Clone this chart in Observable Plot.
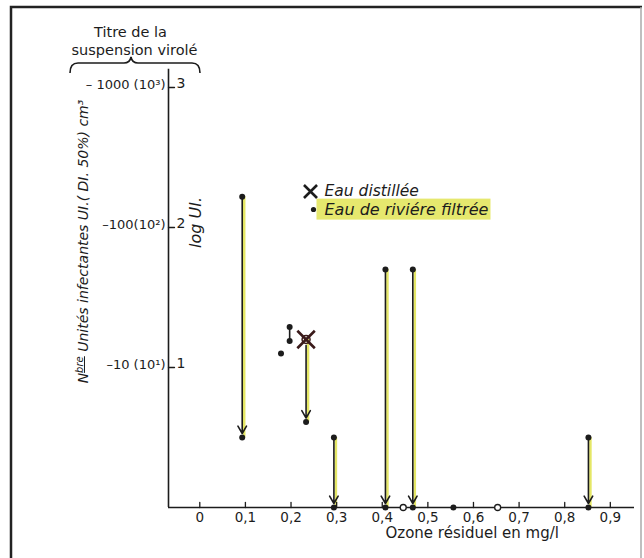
<!DOCTYPE html>
<html><head><meta charset="utf-8">
<script src="https://cdn.jsdelivr.net/npm/d3@7"></script>
<script src="https://cdn.jsdelivr.net/npm/@observablehq/plot@0.6"></script>
<style>
html,body{margin:0;padding:0;background:#fff;}
#chart{position:relative;width:644px;height:558px;overflow:hidden;}
</style></head><body><div id="chart"></div>
<script>
const FONT = '"DejaVu Sans",sans-serif';
const INK = "#1c1c1c";
const YELLOW = "#e2e455";

// axis ticks
const xTicks = [0, 0.1, 0.2, 0.3, 0.4, 0.5, 0.6, 0.7, 0.8, 0.9];
const xTickLabels = ["0", "0,1", "0,2", "0,3", "0,4", "0,5", "0,6", "0,7", "0,8", "0,9"];
const yLogTicks = [1, 2, 3];
const yLogLabels = ["1", "2", "3"];
const yCountLabels = ["–10 (10¹)", "–100(10²)", "– 1000 (10³)"];

// arrows: ozone residual (mg/l), log UI before -> after
const arrowOzone = [0.093, 0.233, 0.294, 0.407, 0.467, 0.852];
const arrowFrom  = [2.22, 1.20, 0.50, 1.70, 1.70, 0.50];
const arrowTo    = [0.50, 0.61, 0.00, 0.00, 0.00, 0.00];
const arrowSeries = ["river", "distilled", "river", "river", "river", "river"];

// other river-water points (filled)
const dotOzone = [0.178, 0.197, 0.197, 0.556];
const dotLog   = [1.10, 1.29, 1.19, 0.00];
// linked pair
const pairOzone = [0.197];
const pairFrom  = [1.29];
const pairTo    = [1.19];
// open circles on the baseline
const openOzone = [0.446, 0.653];
const openLog   = [0.00, 0.00];
// distilled water
const crossOzone = [0.233];
const crossLog   = [1.20];

const xMin = -0.0686, xMax = 0.953, yTop = 3.13;

const idx = arrowOzone.map((_, i) => i);
const riverIdx = idx.filter(i => arrowSeries[i] === "river");
const distIdx = idx.filter(i => arrowSeries[i] === "distilled");
const tickShape = {draw(ctx, l) { ctx.moveTo(0, 0); ctx.lineTo(0, -l); }};

const legendDist = "Eau distillée";
const legendRiver = "Eau de riviére filtrée";
const yTitle = "Nbre Unités infectantes UI.( DI. 50%) cm³";

const txt = {fontFamily: FONT, fill: INK};
const ann = {frameAnchor: "top-left", lineAnchor: "middle", textAnchor: "middle", text: d => d, ...txt};

const chart = Plot.plot({
  width: 644, height: 558,
  marginLeft: 168, marginRight: 10, marginTop: 87, marginBottom: 51,
  x: {domain: [xMin, xMax], axis: null},
  y: {domain: [0, 3], axis: null},
  style: {fontFamily: FONT, background: "white"},
  marks: [
    // yellow highlighter beside the lines
    Plot.ruleX(idx, {x: i => arrowOzone[i], y1: i => arrowFrom[i], y2: i => arrowTo[i], dx: 2, stroke: YELLOW, strokeWidth: 2.5, strokeOpacity: 0.9}),
    // axes lines
    Plot.ruleY([0], {x1: xMin, x2: xMax, stroke: INK, strokeWidth: 1.6}),
    Plot.ruleX([xMin], {y1: 0, y2: yTop, stroke: INK, strokeWidth: 1.6}),
    Plot.vector(xTicks, {x: d => d, y: 0, length: 5, anchor: "start", shape: tickShape, stroke: INK, strokeWidth: 1.3}),
    Plot.text(xTicks, {x: d => d, y: 0, text: (d, i) => xTickLabels[i], dy: 10, fontSize: 13.5, ...txt}),
    Plot.vector(yLogTicks, {x: xMin, y: d => d, length: 6, anchor: "start", rotate: 90, shape: tickShape, stroke: INK, strokeWidth: 1.3}),
    Plot.text(yLogTicks, {x: xMin, y: d => d, text: (d, i) => yLogLabels[i], dx: 8, dy: -4, textAnchor: "start", fontSize: 14, ...txt}),
    Plot.text(yLogTicks, {x: xMin, y: d => d, text: (d, i) => yCountLabels[i], dx: -3, dy: -3, textAnchor: "end", fontSize: 13, ...txt}),
    // arrows
    Plot.arrow(riverIdx, {x: i => arrowOzone[i], y1: i => arrowFrom[i], y2: i => arrowTo[i], headLength: 8, insetEnd: 4, bend: 0, stroke: INK, strokeWidth: 1.6}),
    Plot.arrow(distIdx, {x: i => arrowOzone[i], y1: i => arrowFrom[i], y2: i => arrowTo[i], headLength: 8, insetStart: 6, insetEnd: 4, bend: 0, stroke: INK, strokeWidth: 1.6}),
    Plot.ruleX(pairOzone, {x: d => d, y1: (d, i) => pairFrom[i], y2: (d, i) => pairTo[i], stroke: INK, strokeWidth: 1.6}),
    // dots
    Plot.dot(riverIdx, {x: i => arrowOzone[i], y: i => arrowFrom[i], r: 3, fill: INK}),
    Plot.dot(idx, {x: i => arrowOzone[i], y: i => arrowTo[i], r: 3, fill: INK}),
    Plot.dot(dotOzone, {x: d => d, y: (d, i) => dotLog[i], r: 3, fill: INK}),
    Plot.dot(openOzone, {x: d => d, y: (d, i) => openLog[i], r: 3, fill: "white", stroke: INK, strokeWidth: 1.3}),
    Plot.dot(crossOzone, {x: d => d, y: (d, i) => crossLog[i], r: 4, fill: "none", stroke: "#3a1a1a", strokeWidth: 1.5}),
    Plot.dot(crossOzone, {x: d => d, y: (d, i) => crossLog[i], symbol: "times", r: 8, stroke: "#3a1a1a", strokeWidth: 2.6}),
    // legend
    Plot.dot([0], {frameAnchor: "top-left", dx: 142, dy: 104, symbol: "times", r: 6, stroke: INK, strokeWidth: 2.6}),
    Plot.text([legendDist], {...ann, dx: 156, dy: 104, textAnchor: "start", fontSize: 15.5, fontStyle: "italic"}),
    Plot.dot([0], {frameAnchor: "top-left", dx: 145, dy: 122, r: 2.6, fill: INK}),
    Plot.text([legendRiver], {...ann, dx: 156, dy: 122, textAnchor: "start", fontSize: 16, fontStyle: "italic"}),
    // titles
    Plot.text(["Titre de la"], {...ann, dx: -38, dy: -55, fontSize: 14.5}),
    Plot.text(["suspension virolé"], {...ann, dx: -34, dy: -37, fontSize: 14.5}),
    Plot.text([yTitle], {...ann, dx: -85, dy: 154, rotate: -90, fontSize: 14, fontStyle: "italic"}),
    Plot.text(["log UI."], {...ann, dx: 27, dy: 135, rotate: -90, fontSize: 16, fontStyle: "italic"}),
    Plot.text(["Ozone résiduel en mg/l"], {...ann, frameAnchor: "bottom-left", dx: 217, dy: 26, textAnchor: "start", fontSize: 15})
  ]
});
document.getElementById("chart").appendChild(chart);

const svg = d3.select(chart);
const svgBox = chart.getBoundingClientRect();
// highlight behind the river legend label
svg.selectAll("text").filter(function() { return this.textContent === legendRiver; }).each(function() {
  const b = this.getBoundingClientRect();
  let g = this;
  while (g.parentNode && g.parentNode !== chart) g = g.parentNode;
  svg.insert("rect", () => g)
    .attr("x", b.left - svgBox.left - 8).attr("y", b.top - svgBox.top - 1)
    .attr("width", b.width + 10).attr("height", b.height + 2)
    .attr("fill", YELLOW).attr("opacity", 0.85);
});
// superscript "bre"
svg.selectAll("text").filter(function() { return this.textContent === yTitle; }).each(function() {
  const t = d3.select(this);
  t.text("");
  t.append("tspan").text("N");
  t.append("tspan").attr("font-size", 10).attr("dy", -5).attr("text-decoration", "underline").text("bre");
  t.append("tspan").attr("dy", 5).text(" Unités infectantes UI.( DI. 50%) cm³");
});
// brace and page frame
svg.append("path").attr("d", "M70,73 Q70,63 78,63 L124,63 Q130,63 131,57 Q132,63 138,63 L192,63 Q200,63 200,73")
  .attr("fill", "none").attr("stroke", INK).attr("stroke-width", 1.6);
svg.append("path").attr("d", "M11,560 L11,7 L642,7").attr("fill", "none").attr("stroke", "#222").attr("stroke-width", 2.5);
svg.append("path").attr("d", "M641,7 L641,560").attr("fill", "none").attr("stroke", "#aaa").attr("stroke-width", 1.5);
</script></body></html>
